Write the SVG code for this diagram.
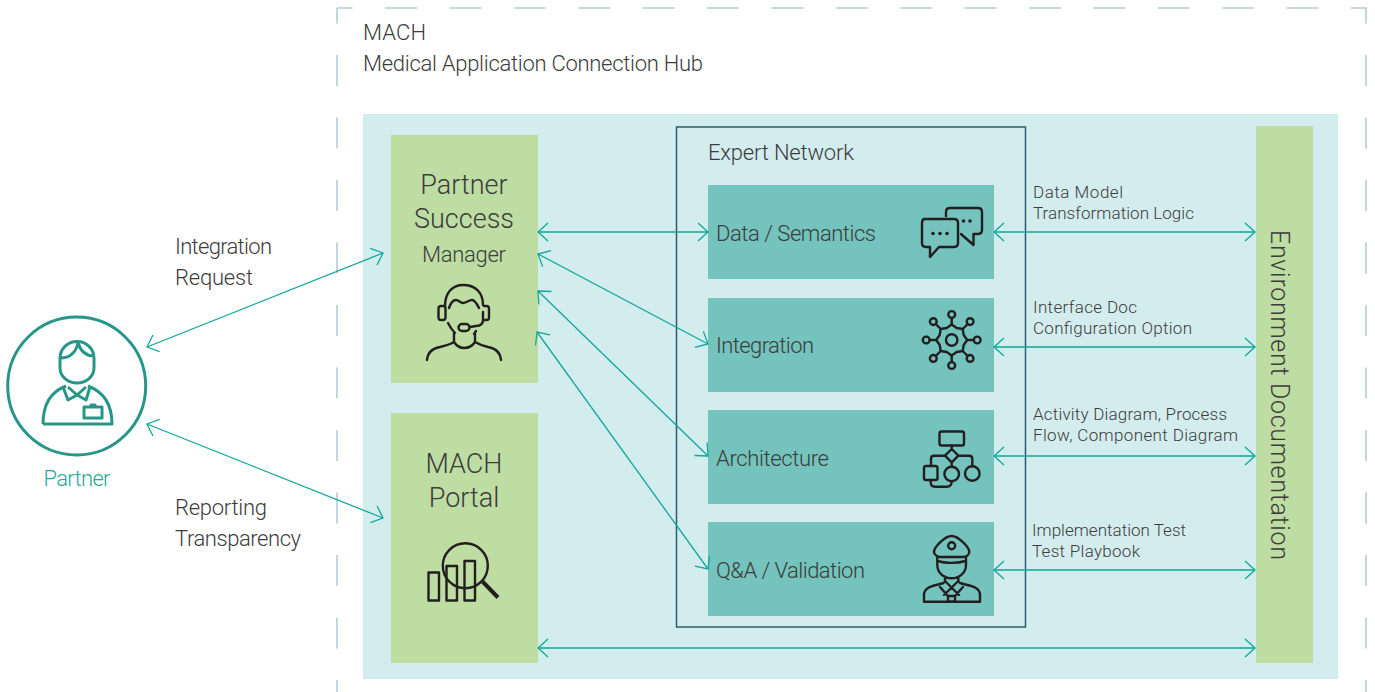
<svg xmlns="http://www.w3.org/2000/svg" width="1375" height="692" viewBox="0 0 1375 692">
<style>
text{font-family:"Roboto","Liberation Sans",sans-serif;font-weight:300;fill:#3c3c3c}
.l{font-size:22px}.s{font-size:17px}.b{font-size:27px}
.m{text-anchor:middle}
.dash{stroke:#b5cdd6;stroke-width:1.6;fill:none}
.green{fill:#bedda3}.teal{fill:#74c3bd}
.c{stroke:#0ea99b;stroke-width:1.3;fill:none;marker-start:url(#a);marker-end:url(#a)}
.i{stroke:#231f20;stroke-width:2.4;fill:none;stroke-linecap:round;stroke-linejoin:round}
.p{stroke:#279689;stroke-width:3;fill:none;stroke-linejoin:round}
</style>
<defs>
<marker id="a" markerUnits="userSpaceOnUse" markerWidth="24" markerHeight="24" refX="12" refY="12" orient="auto-start-reverse" viewBox="0 0 24 24"><path d="M2 3L12 12L2 21" fill="none" stroke="#0ea99b" stroke-width="1.3"/></marker>
</defs>
<g id="frame">
<line class="dash" x1="337" y1="8" x2="1367" y2="8" stroke-dasharray="32 32.4" stroke-dashoffset="16.4"/>
<line class="dash" x1="337" y1="8" x2="337" y2="692" stroke-dasharray="31 31.5" stroke-dashoffset="15.5"/>
<line class="dash" x1="1366" y1="8" x2="1366" y2="692" stroke-dasharray="31 31.5" stroke-dashoffset="15.5"/>
<rect x="363" y="114" width="975" height="565" fill="#d3ecee"/>
<text class="l" x="363" y="40" textLength="63">MACH</text>
<text class="l" x="363" y="71" textLength="340">Medical Application Connection Hub</text>
</g>
<g id="partner">
<circle class="p" cx="76.7" cy="386" r="69"/>
<path class="p" d="M60 358v10a17 15 0 0 0 34 0v-10a17 16.500 0 0 0-34 0ZM60 358C70 358 76 352 78 343C81 352 86 356 94 356"/>
<path class="p" d="M43 424H112C112 405 104 392 88 386M43 424C43 405 50 392 66 386M63 387L68 400L77 395L86 400L90 387M68 387L77 395L86 387"/>
<rect class="p" x="84" y="407" width="18" height="11" stroke-width="2.500"/>
<path class="p" d="M91 407v-2h4v2" stroke-width="1.200"/>
<text x="77" y="486" class="m" font-size="22" style="fill:#2aa899" textLength="67">Partner</text>
</g>
<g id="partner-success-manager">
<rect class="green" x="391" y="135" width="147" height="248"/>
<text class="b m" x="464" y="194">Partner</text>
<text class="b m" x="464" y="228">Success</text>
<text class="l m" x="464" y="262" textLength="84">Manager</text>
<path class="i" d="M445 306C445 292 453 285 463 285C475 285 483 292 483 305M449 308C451 302 453 300 456 300C459 300 460 303 463 303C466 303 469 300 472 300C475 300 477 304 479 308"/>
<rect class="i" x="438.500" y="306" width="7" height="14" rx="2.500"/>
<path class="i" d="M484 306h2.500q2.500 0 2.500 2.500v9q0 2.500-2.500 2.500h-2.500M483 312V320Q483 326 476 326L470 327"/>
<rect class="i" x="458.500" y="324" width="11" height="7" rx="3.500"/>
<path class="i" d="M448 323Q451 329 455 333M476 331L474 334M454 333V342Q458 348 464 348Q471 348 475 342V333M454 342Q449 345 440 347Q428 349 427 360M475 342Q480 345 488 347Q500 349 501 360"/>
</g>
<g id="mach-portal">
<rect class="green" x="391" y="413" width="147" height="250"/>
<text class="b m" x="464" y="473">MACH</text>
<text class="b m" x="464" y="507">Portal</text>
<g class="i" stroke-linecap="butt"><rect x="428.500" y="572.500" width="10.500" height="28"/><rect x="446.500" y="566" width="10.500" height="34.500"/><rect x="464.500" y="561" width="10.500" height="39.500"/><circle cx="465.300" cy="565.700" r="22.500"/></g>
<line x1="482.500" y1="581.500" x2="498" y2="597.500" stroke="#231f20" stroke-width="4"/>
</g>
<g id="expert-network">
<rect x="676.500" y="127" width="349" height="500" fill="none" stroke="#2b5c6f" stroke-width="1.500"/>
<text class="l" x="708" y="160" textLength="146">Expert Network</text>
</g>
<g id="data-semantics">
<rect class="teal" x="708" y="185" width="286" height="94"/>
<text class="l" x="716" y="241" textLength="160">Data / Semantics</text>
<path class="i" d="M925 219H954Q958 219 958 223V243Q958 247 954 247H939L930 257V247H926Q922 247 922 243V223Q922 219 925 219ZM946 216V212Q946 208 950 208H978Q982 208 982 212V230Q982 234 978 234H973.500V245L961 234"/>
<g fill="#231f20"><circle cx="933" cy="233.500" r="1.800"/><circle cx="940" cy="233.500" r="1.800"/><circle cx="947" cy="233.500" r="1.800"/><circle cx="963.500" cy="221" r="1.800"/><circle cx="970" cy="221" r="1.800"/></g>
</g>
<g id="integration">
<rect class="teal" x="708" y="298" width="286" height="94"/>
<text class="l" x="716" y="353" textLength="98">Integration</text>
<g class="i" transform="translate(951.700 340)">
<circle r="5.700"/>
<path d="M0-15.500L5-12L11-11L12-5L15.500 0L12 5L11 11L5 12L0 15.500L-5 12L-11 11L-12 5L-15.500 0L-12-5L-11-11L-5-12Z"/>
<path d="M0-15.500V-22M0 15.500V22M-15.500 0H-22M15.500 0H22M11-11L16-16M-11-11L-16-16M11 11L16 16M-11 11L-16 16"/>
<circle cy="-25.500" r="3.400"/><circle cy="25.500" r="3.400"/><circle cx="-25.500" r="3.400"/><circle cx="25.500" r="3.400"/>
<circle cx="-18.400" cy="-18.400" r="3.400"/><circle cx="18.400" cy="-18.400" r="3.400"/><circle cx="-18.400" cy="18.400" r="3.400"/><circle cx="18.400" cy="18.400" r="3.400"/>
</g>
</g>
<g id="architecture">
<rect class="teal" x="708" y="410" width="286" height="94"/>
<text class="l" x="716" y="466" textLength="113">Architecture</text>
<g class="i">
<rect x="939.500" y="431.500" width="24.500" height="14" rx="2"/>
<path d="M951.700 449L958.400 455.700L951.700 462.400L945 455.700ZM951.700 445.500V449M951.700 462.400V466.700M945 455.700H934Q931 455.700 931 458.700V466M958.400 455.700H969Q972.300 455.700 972.300 458.700V466"/>
<rect x="924" y="466" width="13.500" height="14" rx="2"/>
<circle cx="951.700" cy="474" r="7.300"/><circle cx="972.300" cy="473.500" r="7.300"/>
<path d="M930.700 480V482Q930.700 486.700 935 486.700H946.700Q951.700 486.700 951.700 481.300"/>
</g>
</g>
<g id="qa-validation">
<rect class="teal" x="708" y="522" width="286" height="94"/>
<text class="l" x="716" y="578" textLength="149">Q&amp;A / Validation</text>
<g class="i">
<path d="M951.700 536C945 536 934 547 934 552C934 555 938 557 940 557H963.500C966 557 969.300 555 969.300 552C969.300 547 958 536 951.700 536Z"/>
<circle cx="951.700" cy="545.700" r="3.500"/>
<path d="M938 561C945 563.500 958 563.500 965.500 561M937.300 557V565C937.300 573 944 578.300 951.700 578.300C959 578.300 966 573 966 565V557M945 576.700V581.700M958.300 576.700V581.700M943.500 583C935 586 924 586 924 595V601.700H980V595C980 586 969 586 960 583"/>
<path d="M945 581L959 595M958.300 581L944 595M940 587L948 596M963 587L955 596"/>
<rect x="948" y="596" width="7" height="5.700"/>
</g>
</g>
<g id="environment-documentation">
<rect class="green" x="1256" y="126" width="57" height="537"/>
<text transform="translate(1271 230) rotate(90)" font-size="25" textLength="330">Environment Documentation</text>
</g>
<g id="connectors">
<line class="c" x1="147" y1="347" x2="383" y2="253"/>
<line class="c" x1="147" y1="424" x2="383" y2="518"/>
<line class="c" x1="538" y1="232" x2="708" y2="232"/>
<line class="c" x1="538" y1="254" x2="708" y2="344"/>
<line class="c" x1="538" y1="291" x2="708" y2="456"/>
<line class="c" x1="537" y1="332" x2="708" y2="569"/>
<line class="c" x1="994" y1="232" x2="1255" y2="232"/>
<line class="c" x1="994" y1="347" x2="1255" y2="347"/>
<line class="c" x1="994" y1="456" x2="1255" y2="456"/>
<line class="c" x1="994" y1="570" x2="1255" y2="570"/>
<line class="c" x1="538" y1="648" x2="1255" y2="648"/>
</g>
<g id="labels">
<text class="l" x="175" y="254" textLength="97">Integration</text>
<text class="l" x="175" y="285" textLength="78">Request</text>
<text class="l" x="175" y="515" textLength="92">Reporting</text>
<text class="l" x="175" y="546" textLength="126">Transparency</text>
<text class="s" x="1033" y="198" textLength="90">Data Model</text>
<text class="s" x="1033" y="219" textLength="161">Transformation Logic</text>
<text class="s" x="1033" y="313" textLength="104">Interface Doc</text>
<text class="s" x="1033" y="334" textLength="159">Configuration Option</text>
<text class="s" x="1033" y="420" textLength="194">Activity Diagram, Process</text>
<text class="s" x="1033" y="441" textLength="205">Flow, Component Diagram</text>
<text class="s" x="1032" y="536" textLength="154">Implementation Test</text>
<text class="s" x="1032" y="557" textLength="108">Test Playbook</text>
</g>
</svg>
